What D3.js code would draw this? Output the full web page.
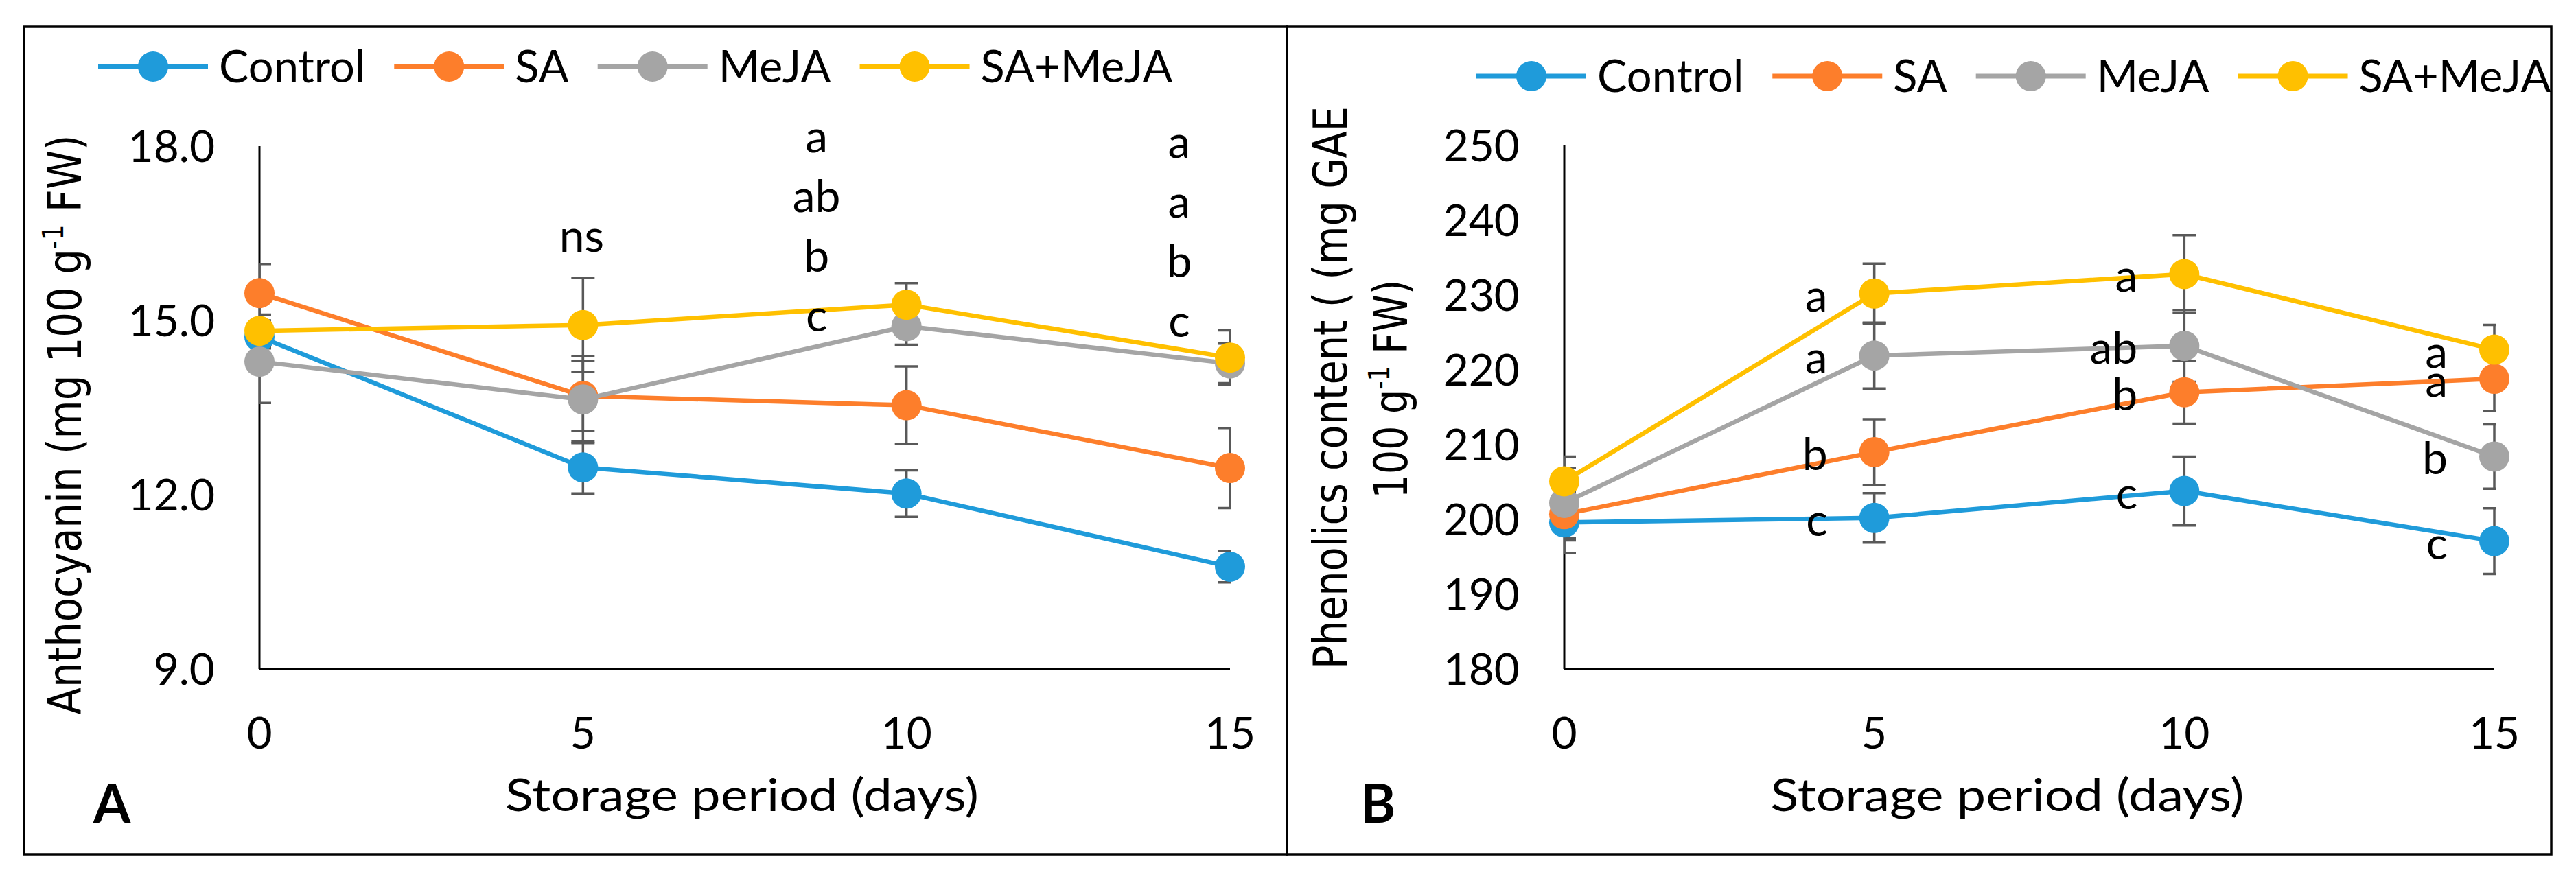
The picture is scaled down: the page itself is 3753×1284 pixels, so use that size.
<!DOCTYPE html>
<html>
<head>
<meta charset="utf-8">
<script src="https://d3js.org/d3.v7.min.js"></script>
<style>
	body { margin: 0; background: #fff; }
	text { font-family: Lato, "Open Sans", sans-serif; fill: #000; }
</style>
</head>
<body>
<script>

	// ---- data ----
	var days = [0, 5, 10, 15];
	var seriesNames = ["Control", "SA", "MeJA", "SA+MeJA"];
	var colors = ["#1F9BDA", "#FD7E2B", "#A5A5A5", "#FFC000"];

	// A: anthocyanin (mg 100 g-1 FW)
	var anthoControl = [14.72, 12.47, 12.02, 10.76];
	var anthoSA      = [15.47, 13.70, 13.54, 12.46];
	var anthoMeJA    = [14.29, 13.64, 14.90, 14.26];
	var anthoSAMeJA  = [14.82, 14.92, 15.27, 14.36];
	var anthoErrControl = [0.20, 0.45, 0.40, 0.27];
	var anthoErrSA      = [0.50, 0.60, 0.67, 0.69];
	var anthoErrMeJA    = [0.71, 0.75, 0.32, 0.34];
	var anthoErrSAMeJA  = [0.28, 0.81, 0.37, 0.47];
	var anthoTicks = [9, 12, 15, 18];
	var anthoLetters5  = ["ns"];
	var anthoLetters10 = ["a", "ab", "b", "c"];
	var anthoLetters15 = ["a", "a", "b", "c"];

	// B: phenolics (mg GAE 100 g-1 FW)
	var phenControl = [199.6, 200.2, 203.8, 197.1];
	var phenSA      = [200.7, 209.0, 217.0, 218.8];
	var phenMeJA    = [202.2, 221.9, 223.2, 208.4];
	var phenSAMeJA  = [205.1, 230.2, 232.8, 222.7];
	var phenErrControl = [4.1, 3.3, 4.6, 4.4];
	var phenErrSA      = [3.5, 4.4, 4.2, 4.3];
	var phenErrMeJA    = [4.7, 4.4, 4.8, 4.3];
	var phenErrSAMeJA  = [3.3, 4.0, 5.2, 3.3];
	var phenTicks = [180, 190, 200, 210, 220, 230, 240, 250];
	// letters per day, in series order (Control, SA, MeJA, SA+MeJA)
	var phenLetters5  = ["c", "b", "a", "a"];
	var phenLetters10 = ["c", "b", "ab", "a"];
	var phenLetters15 = ["c", "a", "b", "a"];

	var w = 3753;
	var h = 1284;
	var svg = d3.select("body")
			.append("svg")
			.attr("width", w)
			.attr("height", h);

	// frames
	svg.append("rect").attr("x", 35).attr("y", 39).attr("width", 1840).attr("height", 1206)
		.attr("fill", "none").attr("stroke", "#000").attr("stroke-width", 3.5);
	svg.append("rect").attr("x", 1875).attr("y", 39).attr("width", 1842).attr("height", 1206)
		.attr("fill", "none").attr("stroke", "#000").attr("stroke-width", 3.5);

	function drawPanel(cfg) {
		var g = svg.append("g");

		var xScale = d3.scaleLinear().domain([0, 15]).range([cfg.x0, cfg.x1]);
		var yScale = d3.scaleLinear().domain(cfg.domain).range([975, cfg.yTop]);

		// axis lines
		g.append("line")
			.attr("x1", xScale(0)).attr("x2", xScale(0))
			.attr("y1", yScale(cfg.domain[1])).attr("y2", yScale(cfg.domain[0]))
			.attr("stroke", "#000").attr("stroke-width", 3);
		g.append("line")
			.attr("x1", xScale(0)).attr("x2", xScale(15))
			.attr("y1", yScale(cfg.domain[0])).attr("y2", yScale(cfg.domain[0]))
			.attr("stroke", "#000").attr("stroke-width", 3);

		// tick labels
		g.selectAll(".ylab")
			.data(cfg.ticks)
			.enter()
			.append("text")
			.attr("x", xScale(0) - 65)
			.attr("y", function(d){ return yScale(d); })
			.attr("dy", "0.36em")
			.attr("text-anchor", "end")
			.style("font-size", "64px")
			.text(cfg.fmt);

		g.selectAll(".xlab")
			.data(days)
			.enter()
			.append("text")
			.attr("x", function(d){ return xScale(d); })
			.attr("y", 1091)
			.attr("text-anchor", "middle")
			.style("font-size", "64px")
			.text(function(d){ return d; });

		// x title
		g.append("text")
			.attr("x", (xScale(0) + xScale(15)) / 2 + cfg.titleShift)
			.attr("y", 1182)
			.attr("text-anchor", "middle")
			.style("font-size", "66px")
			.attr("textLength", 690)
			.attr("lengthAdjust", "spacingAndGlyphs")
			.text("Storage period (days)");

		// panel letter
		g.append("text")
			.attr("x", cfg.tagX)
			.attr("y", 1199)
			.style("font-size", "78px")
			.style("font-weight", "bold")
			.text(cfg.tag);

		// error bars, clipped to the plot area
		var clipId = "clip" + cfg.tag;
		svg.append("clipPath").attr("id", clipId)
			.append("rect")
			.attr("x", xScale(0)).attr("y", 0)
			.attr("width", xScale(15) - xScale(0) + 2).attr("height", h);

		var eb = g.append("g").attr("clip-path", "url(#" + clipId + ")");
		cfg.values.forEach(function(vals, s){
			var errs = cfg.errors[s];
			var pts = days.map(function(d, i){ return {d: d, v: vals[i], e: errs[i]}; });
			eb.selectAll(null)
				.data(pts)
				.enter()
				.append("path")
				.attr("d", function(p){
					var x = xScale(p.d), yt = yScale(p.v + p.e), yb = yScale(p.v - p.e);
					return "M" + x + "," + yt + "V" + yb +
						"M" + (x - 17) + "," + yt + "H" + (x + 17) +
						"M" + (x - 17) + "," + yb + "H" + (x + 17);
				})
				.attr("fill", "none")
				.attr("stroke", "#595959")
				.attr("stroke-width", 3.5);
		});

		// series
		var line = d3.line()
			.x(function(d, i){ return xScale(days[i]); })
			.y(function(d){ return yScale(d); });

		cfg.values.forEach(function(vals, s){
			g.append("path")
				.datum(vals)
				.attr("d", line)
				.attr("fill", "none")
				.attr("stroke", colors[s])
				.attr("stroke-width", 6.5)
				.attr("stroke-linejoin", "round");
			g.selectAll(null)
				.data(vals)
				.enter()
				.append("circle")
				.attr("cx", function(d, i){ return xScale(days[i]); })
				.attr("cy", function(d){ return yScale(d); })
				.attr("r", 22)
				.attr("fill", colors[s]);
		});

		// legend
		var lx = cfg.legendX;
		seriesNames.forEach(function(name, s){
			g.append("line")
				.attr("x1", lx).attr("x2", lx + 160)
				.attr("y1", cfg.legendY).attr("y2", cfg.legendY)
				.attr("stroke", colors[s]).attr("stroke-width", 7);
			g.append("circle")
				.attr("cx", lx + 80).attr("cy", cfg.legendY).attr("r", 22)
				.attr("fill", colors[s]);
			var t = g.append("text")
				.attr("x", lx + 176)
				.attr("y", cfg.legendY + 23)
				.style("font-size", "65px")
				.text(name);
			lx = lx + 176 + t.node().getComputedTextLength() + 42;
		});

		cfg.letters(g, xScale, yScale);
	}

	function yTitle(x, y, parts, len) {
		var t = svg.append("text")
			.attr("transform", "translate(" + x + "," + y + ") rotate(-90)")
			.attr("text-anchor", "middle")
			.style("font-family", "'DejaVu Sans', sans-serif")
			.style("font-size", "68px")
			.attr("textLength", len)
			.attr("lengthAdjust", "spacingAndGlyphs");
		parts.forEach(function(p){
			var ts = t.append("tspan").text(p.t);
			if (p.sup) ts.style("font-size", "42px").attr("dy", -26);
			if (p.after) ts.attr("dy", 26);
		});
	}

	drawPanel({
		tag: "A", tagX: 136, titleShift: -4,
		x0: 378, x1: 1792, yTop: 213, domain: [9, 18],
		ticks: anthoTicks, fmt: d3.format(".1f"),
		legendX: 143, legendY: 97,
		values: [anthoControl, anthoSA, anthoMeJA, anthoSAMeJA],
		errors: [anthoErrControl, anthoErrSA, anthoErrMeJA, anthoErrSAMeJA],
		letters: function(g, xScale, yScale){
			var top = yScale(18);
			g.append("text").attr("x", xScale(5) - 2).attr("y", top + 154)
				.attr("text-anchor", "middle").style("font-size", "66px").text(anthoLetters5[0]);
			g.selectAll(null).data(anthoLetters10).enter().append("text")
				.attr("x", xScale(10) - 131)
				.attr("y", function(d, i){ return top + 9 + i * 87; })
				.attr("text-anchor", "middle").style("font-size", "66px")
				.text(function(d){ return d; });
			g.selectAll(null).data(anthoLetters15).enter().append("text")
				.attr("x", xScale(15) - 74)
				.attr("y", function(d, i){ return top + 17 + i * 87; })
				.attr("text-anchor", "middle").style("font-size", "66px")
				.text(function(d){ return d; });
		}
	});

	drawPanel({
		tag: "B", tagX: 1982, titleShift: -32,
		x0: 2279, x1: 3634, yTop: 212, domain: [180, 250],
		ticks: phenTicks, fmt: d3.format("d"),
		legendX: 2151, legendY: 111,
		values: [phenControl, phenSA, phenMeJA, phenSAMeJA],
		errors: [phenErrControl, phenErrSA, phenErrMeJA, phenErrSAMeJA],
		letters: function(g, xScale, yScale){
			var sets = [[5, phenLetters5], [10, phenLetters10], [15, phenLetters15]];
			var vals = [phenControl, phenSA, phenMeJA, phenSAMeJA];
			sets.forEach(function(st){
				var i = days.indexOf(st[0]);
				g.selectAll(null).data(st[1]).enter().append("text")
					.attr("x", xScale(st[0]) - 68)
					.attr("y", function(d, s){ return yScale(vals[s][i]) + 26; })
					.attr("text-anchor", "end").style("font-size", "66px")
					.text(function(d){ return d; });
			});
		}
	});

	// y titles
	yTitle(118, 619, [{t: "Anthocyanin (mg 100 g"}, {t: "-1", sup: true}, {t: " FW)", after: true}], 845);
	yTitle(1962, 565, [{t: "Phenolics content ( (mg GAE"}], 820);
	yTitle(2050, 567, [{t: "100 g"}, {t: "-1", sup: true}, {t: " FW)", after: true}], 319);

</script>
</body>
</html>
